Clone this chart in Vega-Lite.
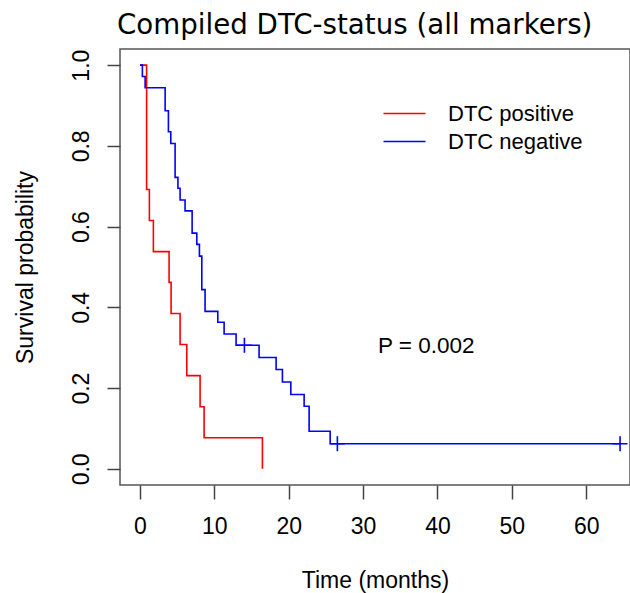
{
  "$schema": "https://vega.github.io/schema/vega-lite/v6.json",
  "width": 510,
  "height": 436,
  "autosize": {"type": "none"},
  "padding": {"left": 120, "top": 49, "right": 0, "bottom": 108},
  "background": "white",
  "title": {"text": "Compiled DTC-status (all markers)", "anchor": "start", "frame": "group", "dx": -3, "dy": 30, "offset": 17, "baseline": "alphabetic", "font": "DejaVu Sans", "fontSize": 27.7, "fontWeight": "normal", "color": "#000"},
  "config": {
    "view": {"stroke": "#555", "strokeWidth": 1.5},
    "axis": {"domain": false, "grid": false, "tickColor": "#444", "tickWidth": 1.5, "labelFont": "Liberation Sans", "labelFontSize": 23, "labelColor": "#000", "titleFont": "Liberation Sans", "titleFontSize": 23, "titleFontWeight": "normal", "titleColor": "#000"}
  },
  "datasets": {
    "curves": [
      {"group": "DTC positive", "time": 0, "surv": 1.0, "cens": false},
      {"group": "DTC positive", "time": 0.89, "surv": 0.692, "cens": false},
      {"group": "DTC positive", "time": 1.26, "surv": 0.615, "cens": false},
      {"group": "DTC positive", "time": 1.8, "surv": 0.538, "cens": false},
      {"group": "DTC positive", "time": 3.91, "surv": 0.462, "cens": false},
      {"group": "DTC positive", "time": 4.18, "surv": 0.385, "cens": false},
      {"group": "DTC positive", "time": 5.39, "surv": 0.308, "cens": false},
      {"group": "DTC positive", "time": 6.29, "surv": 0.231, "cens": false},
      {"group": "DTC positive", "time": 8.08, "surv": 0.154, "cens": false},
      {"group": "DTC positive", "time": 8.62, "surv": 0.077, "cens": false},
      {"group": "DTC positive", "time": 16.46, "surv": 0.0, "cens": false},
      {"group": "DTC negative", "time": 0, "surv": 1.0, "cens": false},
      {"group": "DTC negative", "time": 0.32, "surv": 0.972, "cens": false},
      {"group": "DTC negative", "time": 0.69, "surv": 0.944, "cens": false},
      {"group": "DTC negative", "time": 3.38, "surv": 0.887, "cens": false},
      {"group": "DTC negative", "time": 3.82, "surv": 0.835, "cens": false},
      {"group": "DTC negative", "time": 4.14, "surv": 0.806, "cens": false},
      {"group": "DTC negative", "time": 4.72, "surv": 0.722, "cens": false},
      {"group": "DTC negative", "time": 5.1, "surv": 0.695, "cens": false},
      {"group": "DTC negative", "time": 5.39, "surv": 0.666, "cens": false},
      {"group": "DTC negative", "time": 6.06, "surv": 0.639, "cens": false},
      {"group": "DTC negative", "time": 7.01, "surv": 0.584, "cens": false},
      {"group": "DTC negative", "time": 7.64, "surv": 0.556, "cens": false},
      {"group": "DTC negative", "time": 7.99, "surv": 0.527, "cens": false},
      {"group": "DTC negative", "time": 8.31, "surv": 0.444, "cens": false},
      {"group": "DTC negative", "time": 8.75, "surv": 0.39, "cens": false},
      {"group": "DTC negative", "time": 10.46, "surv": 0.363, "cens": false},
      {"group": "DTC negative", "time": 11.31, "surv": 0.334, "cens": false},
      {"group": "DTC negative", "time": 12.92, "surv": 0.306, "cens": false},
      {"group": "DTC negative", "time": 14.04, "surv": 0.306, "cens": true},
      {"group": "DTC negative", "time": 16.01, "surv": 0.276, "cens": false},
      {"group": "DTC negative", "time": 18.3, "surv": 0.246, "cens": false},
      {"group": "DTC negative", "time": 19.15, "surv": 0.215, "cens": false},
      {"group": "DTC negative", "time": 20.28, "surv": 0.184, "cens": false},
      {"group": "DTC negative", "time": 22.07, "surv": 0.155, "cens": false},
      {"group": "DTC negative", "time": 22.74, "surv": 0.093, "cens": false},
      {"group": "DTC negative", "time": 25.57, "surv": 0.062, "cens": false},
      {"group": "DTC negative", "time": 26.54, "surv": 0.062, "cens": true},
      {"group": "DTC negative", "time": 64.55, "surv": 0.062, "cens": true}
    ],
    "notes": [
      {"label": "P = 0.002", "time": 32.0, "surv": 0.305}
    ]
  },
  "encoding": {
    "x": {"field": "time", "type": "quantitative", "scale": {"domain": [-2.689, 65.887], "nice": false, "zero": false},
      "axis": {"values": [0, 10, 20, 30, 40, 50, 60], "tickSize": 14, "labelPadding": 16, "title": "Time (months)", "titlePadding": 31}},
    "y": {"field": "surv", "type": "quantitative", "scale": {"domain": [-0.04, 1.04], "nice": false, "zero": false},
      "axis": {"values": [0, 0.2, 0.4, 0.6, 0.8, 1.0], "format": ".1f", "tickSize": 13, "labelAngle": -90, "labelAlign": "center", "labelBaseline": "alphabetic", "labelPadding": 19, "title": "Survival probability", "titlePadding": 33}}
  },
  "layer": [
    {
      "data": {"name": "curves"},
      "mark": {"type": "line", "interpolate": "step-after", "strokeWidth": 1.6, "clip": true},
      "encoding": {
        "color": {"field": "group", "type": "nominal",
          "scale": {"domain": ["DTC positive", "DTC negative"], "range": ["#ff0000", "#0000ff"]},
          "legend": {"orient": "none", "legendX": 273, "legendY": 53, "title": null, "padding": 0,
            "symbolType": "M-2,0H2", "symbolSize": 441, "symbolStrokeWidth": 1.6, "symbolFillColor": null,
            "labelFont": "Liberation Sans", "labelFontSize": 22, "labelColor": "#000", "labelOffset": 32, "rowPadding": 5}
        }
      }
    },
    {
      "data": {"name": "curves"},
      "transform": [{"filter": "datum.cens"}],
      "mark": {"type": "point", "shape": "M-1,0H1M0,-1V1", "size": 225, "filled": false, "strokeWidth": 1.6, "opacity": 1, "clip": true},
      "encoding": {
        "color": {"field": "group", "type": "nominal", "scale": {"domain": ["DTC positive", "DTC negative"], "range": ["#ff0000", "#0000ff"]}, "legend": null}
      }
    },
    {
      "data": {"name": "notes"},
      "mark": {"type": "text", "align": "left", "baseline": "middle", "font": "Liberation Sans", "fontSize": 22.5, "color": "#000"},
      "encoding": {"text": {"field": "label"}}
    }
  ]
}
